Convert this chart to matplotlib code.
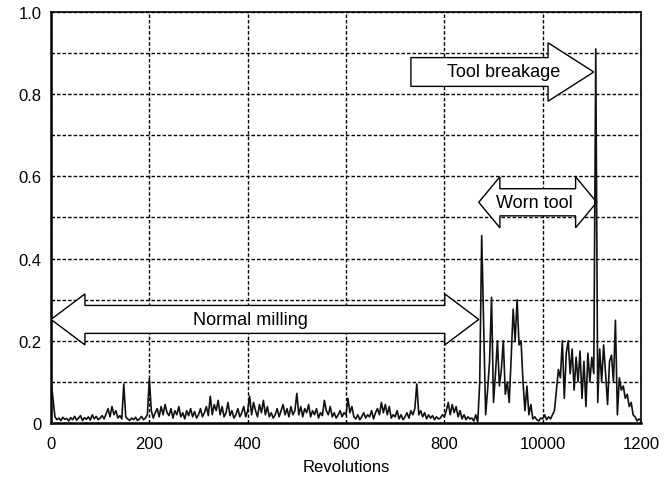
import numpy as np
import matplotlib
matplotlib.use("Agg")
from matplotlib import pyplot as plt
from matplotlib.patches import Polygon

plt.rcParams['font.family'] = ['Liberation Sans', 'DejaVu Sans']

revs = np.arange(0, 1201, 4)
signal = [
    # 0 - 96
    0.105, 0.06, 0.015, 0.008, 0.012, 0.006, 0.014, 0.009, 0.011, 0.005, 0.013, 0.008, 0.016,
    0.007, 0.012, 0.018, 0.006, 0.013, 0.009, 0.015, 0.007, 0.02, 0.01, 0.016, 0.008,
    # 100 - 196
    0.012, 0.018, 0.01, 0.022, 0.035, 0.015, 0.04, 0.02, 0.03, 0.012, 0.018, 0.01, 0.095,
    0.015, 0.01, 0.006, 0.012, 0.008, 0.014, 0.006, 0.01, 0.016, 0.008, 0.012, 0.02,
    # 200 - 296
    0.108, 0.03, 0.012, 0.025, 0.035, 0.015, 0.04, 0.02, 0.045, 0.025, 0.018, 0.035, 0.012,
    0.03, 0.02, 0.04, 0.015, 0.025, 0.01, 0.03, 0.018, 0.035, 0.015, 0.028, 0.012,
    # 300 - 396
    0.02, 0.035, 0.015, 0.025, 0.04, 0.018, 0.065, 0.02, 0.045, 0.03, 0.055, 0.02, 0.04,
    0.015, 0.025, 0.05, 0.018, 0.03, 0.012, 0.02, 0.035, 0.015, 0.025, 0.04, 0.015,
    # 400 - 496
    0.03, 0.065, 0.02, 0.05, 0.03, 0.015, 0.045, 0.025, 0.055, 0.02, 0.04, 0.015, 0.025,
    0.012, 0.02, 0.035, 0.015, 0.03, 0.045, 0.02, 0.035, 0.015, 0.04, 0.02, 0.03,
    # 500 - 596
    0.072, 0.02, 0.04, 0.015, 0.035, 0.025, 0.045, 0.015, 0.03, 0.02, 0.035, 0.012, 0.025,
    0.018, 0.055, 0.03, 0.02, 0.04, 0.015, 0.025, 0.012, 0.02, 0.03, 0.015, 0.025,
    # 600 - 696
    0.02, 0.06, 0.025, 0.04, 0.015, 0.01, 0.02, 0.008, 0.015, 0.025, 0.012, 0.02, 0.015,
    0.03, 0.01, 0.025, 0.035, 0.02, 0.05, 0.025, 0.045, 0.02, 0.04, 0.012, 0.02,
    # 700 - 796
    0.015, 0.03, 0.01, 0.02, 0.008, 0.015, 0.025, 0.012, 0.03, 0.02, 0.035, 0.095, 0.02,
    0.03, 0.015, 0.025, 0.01, 0.02, 0.012, 0.018, 0.008, 0.015, 0.01, 0.012, 0.02,
    # 800 - 896
    0.015, 0.03, 0.05, 0.02, 0.045, 0.025, 0.04, 0.015, 0.03, 0.01, 0.02, 0.008, 0.015,
    0.01, 0.012, 0.005, 0.02, 0.002, 0.1, 0.456, 0.237, 0.02, 0.08, 0.15, 0.306,
    # 900 - 996
    0.05, 0.12, 0.2, 0.09, 0.13, 0.2, 0.07, 0.1, 0.05, 0.16, 0.277, 0.2, 0.3,
    0.19, 0.2, 0.1, 0.03, 0.09, 0.02, 0.045, 0.01, 0.015, 0.008, 0.005, 0.012,
    # 1000 - 1096
    0.01, 0.02, 0.008, 0.015, 0.01, 0.02, 0.03, 0.08, 0.13, 0.11, 0.2, 0.06, 0.17,
    0.2, 0.12, 0.18, 0.08, 0.16, 0.1, 0.175, 0.06, 0.15, 0.04, 0.17, 0.1,
    # 1100 - 1200
    0.16, 0.12, 0.91, 0.05, 0.18, 0.1, 0.19, 0.12, 0.045, 0.15, 0.165, 0.1, 0.25,
    0.02, 0.11, 0.08, 0.09, 0.06, 0.07, 0.04, 0.05, 0.02, 0.015, 0.005, 0.01,
    0.005,
]

x_ticks = [0, 200, 400, 600, 800, 1000, 1200]
x_labels = ['0', '200', '400', '600', '800', '10000', '1200']
y_ticks = [0, 0.2, 0.4, 0.6, 0.8, 1.0]
y_labels = ['0', '0.2', '0.4', '0.6', '0.8', '1.0']


def arrow_poly(x0, x1, yc, body, head, hlen, double=True):
    # outline of a block arrow pointing right (and left if double)
    pts = []
    if double:
        pts += [(x0, yc), (x0 + hlen, yc + head), (x0 + hlen, yc + body)]
    else:
        pts += [(x0, yc + body)]
    pts += [(x1 - hlen, yc + body), (x1 - hlen, yc + head), (x1, yc),
            (x1 - hlen, yc - head), (x1 - hlen, yc - body)]
    if double:
        pts += [(x0 + hlen, yc - body), (x0 + hlen, yc - head)]
    else:
        pts += [(x0, yc - body)]
    return pts


fig = plt.figure(figsize=(6.65, 4.81), dpi=100)
ax = fig.add_axes([0.0767, 0.1185, 0.8872, 0.8545])

ax.plot(revs, signal, color='#111111', lw=1.2, zorder=4)

ax.set_xlim(0, 1200)
ax.set_ylim(0, 1.0)
ax.set_xticks(x_ticks)
ax.set_xticklabels(x_labels)
ax.set_yticks(y_ticks)
ax.set_yticklabels(y_labels)
ax.set_yticks(np.arange(0.1, 1.0, 0.2), minor=True)
ax.tick_params(axis='both', which='both', length=0, labelsize=12)
ax.tick_params(axis='x', pad=9)
ax.tick_params(axis='y', pad=7)

ax.grid(True, axis='x', which='major', color='black', lw=1.0, ls=(0, (2.5, 1.5)), zorder=1)
ax.grid(True, axis='y', which='both', color='black', lw=1.0, ls=(0, (2.5, 1.5)), zorder=1)

for side in ['left', 'bottom']:
    ax.spines[side].set_linewidth(1.8)
for side in ['top', 'right']:
    ax.spines[side].set_linewidth(1.2)

ax.set_xlabel('Revolutions', fontsize=12, labelpad=6)

# annotation arrows
ax.add_patch(Polygon(arrow_poly(0, 870, 0.252, 0.034, 0.062, 69), closed=True,
                     facecolor='white', edgecolor='black', lw=1.0, zorder=3))
ax.text(405, 0.252, 'Normal milling', ha='center', va='center', fontsize=13, zorder=5)

ax.add_patch(Polygon(arrow_poly(870, 1110, 0.537, 0.033, 0.062, 43), closed=True,
                     facecolor='white', edgecolor='black', lw=1.0, zorder=3))
ax.text(983, 0.537, 'Worn tool', ha='center', va='center', fontsize=13, zorder=5)

ax.add_patch(Polygon(arrow_poly(732, 1104, 0.854, 0.035, 0.071, 93, double=False), closed=True,
                     facecolor='white', edgecolor='black', lw=1.0, zorder=3))
ax.text(920, 0.854, 'Tool breakage', ha='center', va='center', fontsize=13, zorder=5)

fig.savefig('out.png', dpi=100)
